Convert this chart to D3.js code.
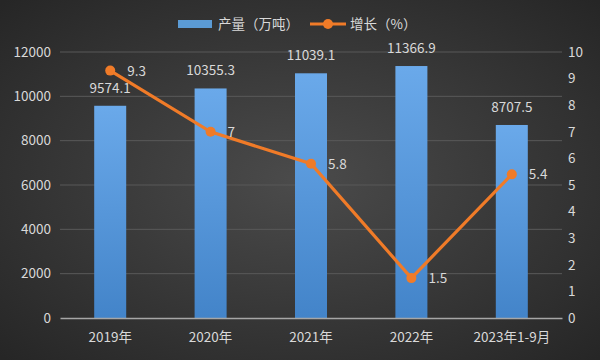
<!DOCTYPE html>
<html>
<head>
<meta charset="utf-8">
<script src="https://cdn.jsdelivr.net/npm/d3@7"></script>
<style>
  body { margin:0; padding:0; background:#333; }
  svg text { font-family: "Noto Sans CJK SC", "Noto Sans", sans-serif; fill:#d9d9d9; }
</style>
</head>
<body>
<div class="canvas"></div>
<script>
// data
const years = ['2019年', '2020年', '2021年', '2022年', '2023年1-9月'];
const output = [9574.1, 10355.3, 11039.1, 11366.9, 8707.5];
const growth = [9.3, 7, 5.8, 1.5, 5.4];
const leftTicks = [0, 2000, 4000, 6000, 8000, 10000, 12000];
const rightTicks = [0, 1, 2, 3, 4, 5, 6, 7, 8, 9, 10];

const dims = { width:600, height:360 };
const plot = { left:60, right:562, top:52, bottom:318 };

const svg = d3.select('.canvas')
.append('svg')
.attr('width', dims.width)
.attr('height', dims.height);

//------------------------ gradients
const defs = svg.append('defs');
const bg = defs.append('radialGradient').attr('id', 'bg')
.attr('cx', '50%').attr('cy', '50%').attr('r', '70%');
bg.append('stop').attr('offset', '0%').attr('stop-color', '#4b4b4b');
bg.append('stop').attr('offset', '100%').attr('stop-color', '#262626');

const barGrad = defs.append('linearGradient').attr('id', 'barGrad')
.attr('x1', 0).attr('y1', 0).attr('x2', 0).attr('y2', 1);
barGrad.append('stop').attr('offset', '0%').attr('stop-color', '#6aa9ea');
barGrad.append('stop').attr('offset', '100%').attr('stop-color', '#4384c9');

svg.append('rect')
.attr('width', dims.width).attr('height', dims.height)
.attr('fill', 'url(#bg)');

//------------------------ scales
const x = d3.scaleBand()
.domain(years)
.range([plot.left, plot.right]);

const yL = d3.scaleLinear().domain([0, 12000]).range([plot.bottom, plot.top]);
const yR = d3.scaleLinear().domain([0, 10]).range([plot.bottom, plot.top]);

// gridlines
svg.append('g')
.selectAll('line')
.data(leftTicks.filter(d => d > 0))
.enter().append('line')
.attr('x1', plot.left).attr('x2', plot.right)
.attr('y1', d => yL(d)).attr('y2', d => yL(d))
.attr('stroke', '#595959').attr('stroke-width', 1);

// left axis
const axisL = svg.append('g')
.attr('transform', `translate(${plot.left - 9}, 0)`)
.call(d3.axisLeft(yL).tickValues(leftTicks).tickFormat(d3.format('d')).tickSize(0).tickPadding(0));
axisL.select('.domain').remove();
axisL.selectAll('text').style('font-size', '13.5px');

// right axis
const axisR = svg.append('g')
.attr('transform', `translate(${plot.right + 6}, 0)`)
.call(d3.axisRight(yR).tickValues(rightTicks).tickSize(0).tickPadding(0));
axisR.select('.domain').remove();
axisR.selectAll('text').style('font-size', '13.5px');

// bars
const barW = 32;
svg.append('g')
.selectAll('rect')
.data(output)
.enter().append('rect')
.attr('x', (d, i) => x(years[i]) + x.bandwidth()/2 - barW/2)
.attr('y', d => yL(d))
.attr('width', barW)
.attr('height', d => yL(0) - yL(d))
.attr('fill', 'url(#barGrad)');

// bottom axis
const axisB = svg.append('g')
.attr('transform', `translate(0, ${plot.bottom})`)
.call(d3.axisBottom(x).tickSize(0).tickPadding(14));
axisB.select('.domain').attr('stroke', '#a6a6a6').attr('stroke-width', 1.5);
axisB.selectAll('text').style('font-size', '13.5px');

// bar labels
svg.append('g')
.selectAll('text')
.data(output)
.enter().append('text')
.attr('x', (d, i) => x(years[i]) + x.bandwidth()/2)
.attr('y', d => yL(d) - 13)
.attr('text-anchor', 'middle')
.style('font-size', '13.5px')
.text(d => d);

// growth line
const cx = (d, i) => x(years[i]) + x.bandwidth()/2;
const line = d3.line()
.x(cx)
.y(d => yR(d));

svg.append('path')
.datum(growth)
.attr('d', line)
.attr('fill', 'none')
.attr('stroke', '#f07b28')
.attr('stroke-width', 3.2);

svg.append('g')
.selectAll('circle')
.data(growth)
.enter().append('circle')
.attr('cx', cx)
.attr('cy', d => yR(d))
.attr('r', 5)
.attr('fill', '#f07b28');

svg.append('g')
.selectAll('text')
.data(growth)
.enter().append('text')
.attr('x', (d, i) => cx(d, i) + 17)
.attr('y', d => yR(d) + 5)
.style('font-size', '13.5px')
.text(d => d);

// legend
const legend = svg.append('g');
legend.append('rect')
.attr('x', 178).attr('y', 20).attr('width', 34).attr('height', 8)
.attr('fill', '#5b9bd5');
legend.append('text')
.attr('x', 218).attr('y', 29)
.style('font-size', '13.5px')
.text('产量（万吨）');
legend.append('line')
.attr('x1', 310).attr('x2', 346).attr('y1', 24).attr('y2', 24)
.attr('stroke', '#f07b28').attr('stroke-width', 3);
legend.append('circle')
.attr('cx', 328).attr('cy', 24).attr('r', 5)
.attr('fill', '#f07b28');
legend.append('text')
.attr('x', 350).attr('y', 29)
.style('font-size', '13.5px')
.text('增长（%）');
</script>
</body>
</html>
